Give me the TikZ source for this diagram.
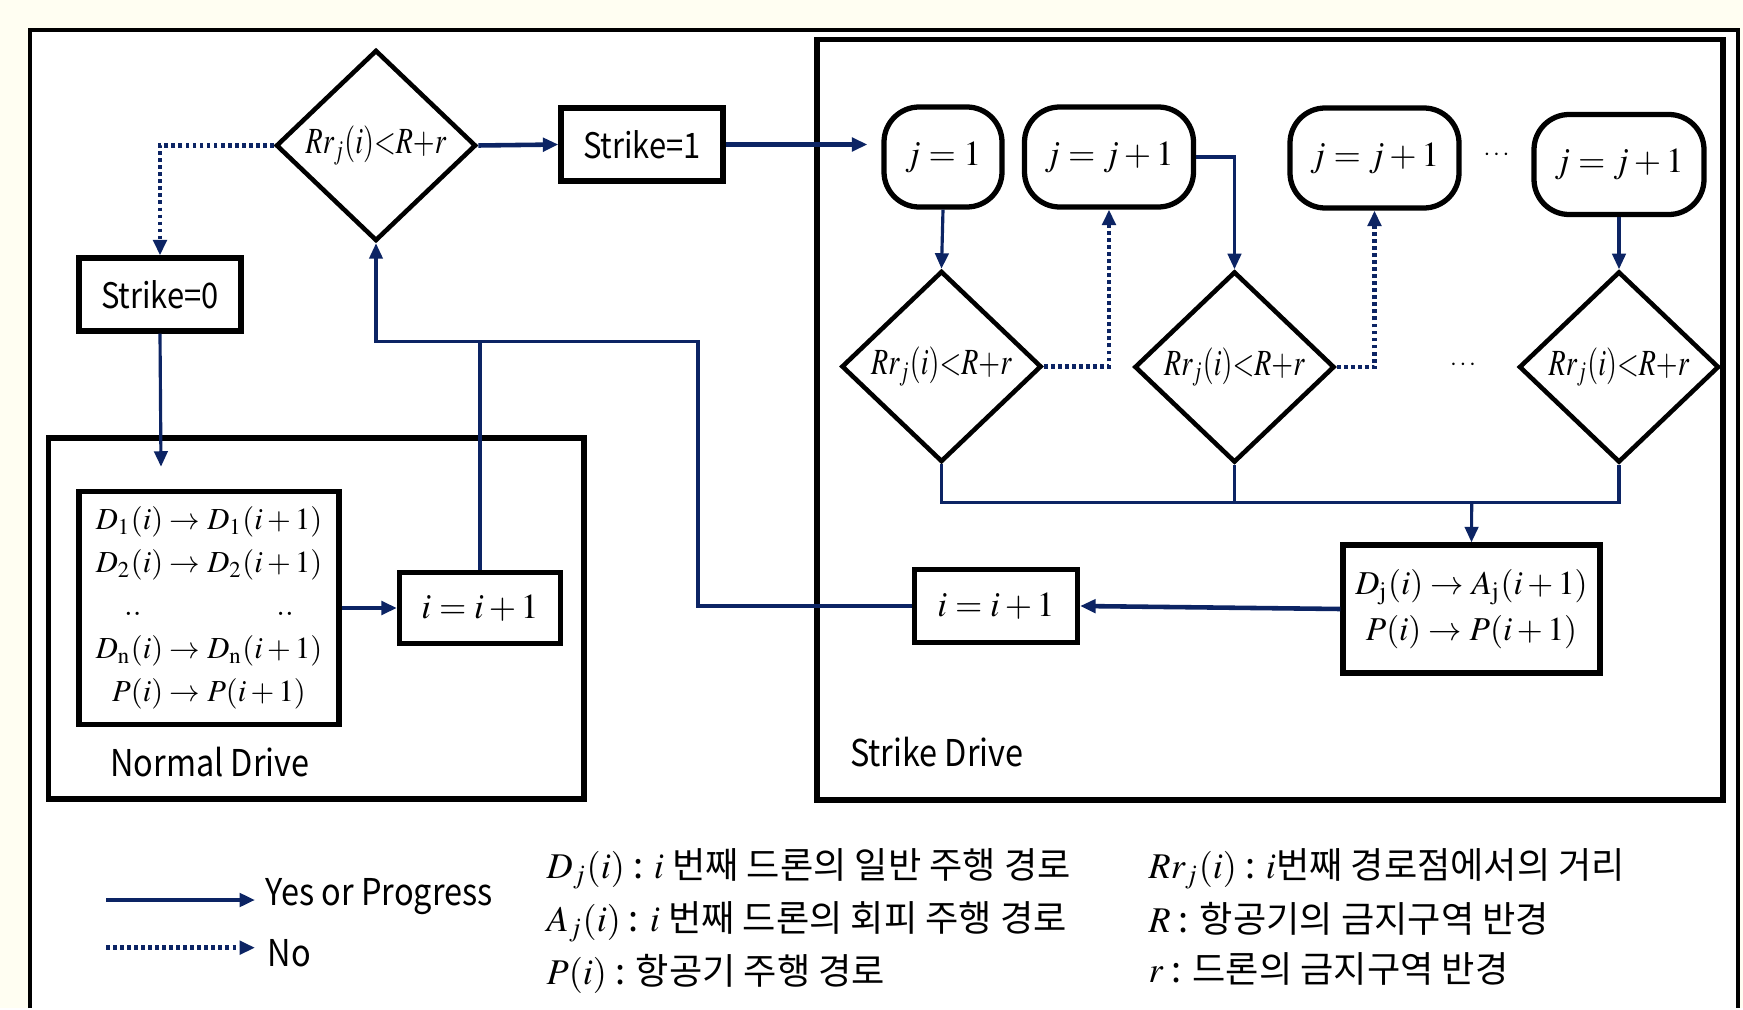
\documentclass[tikz,border=0pt]{standalone}
\usepackage{mathptmx}
\usepackage[no-math]{fontspec}
\newfontfamily\krfont{Noto Sans CJK KR}
\newfontfamily\lblfont{Noto Sans CJK KR}[FakeStretch=0.88]
\usetikzlibrary{arrows.meta,shapes.geometric}
\definecolor{navy}{RGB}{12,36,100}
\definecolor{cream}{RGB}{255,254,242}
\newcommand{\cond}{\scalebox{0.76}[1]{$Rr_j(i){<}R{+}r$}}
\tikzset{
  >={Triangle[length=4.4pt,width=3.8pt]},
  procbox/.style ={rectangle, draw, line width=1.5pt, inner sep=2pt,
                   font=\lblfont\fontsize{10}{12}\selectfont, align=center},
  jbox/.style    ={rectangle, rounded corners=10pt, draw, line width=1.5pt,
                   minimum height=1cm, font=\fontsize{10}{12}\selectfont},
  decide/.style  ={diamond, draw, line width=1.3pt, inner sep=0pt,
                   minimum width=2cm, minimum height=1.91cm,
                   font=\fontsize{10.5}{12}\selectfont},
  drivebox/.style={draw, line width=1.5pt},
  con/.style     ={draw=navy, line width=0.9pt},
  yes/.style     ={->, draw=navy, line width=1.3pt},
  no/.style      ={->, draw=navy, line width=1.4pt,
                   dash pattern=on 1.1pt off 0.9pt},
  lbl/.style     ={font=\lblfont\fontsize{10.5}{12}\selectfont, inner sep=0pt},
  defn/.style    ={font=\krfont\fontsize{10.3}{12}\selectfont, anchor=west,
                   inner sep=0pt},
}
\begin{document}
\begin{tikzpicture}
\fill[cream] (0,0) rectangle (17.43,-10.08);
\fill[white] (0.30,-0.30) rectangle (17.38,-10.08);
\draw[line width=0.9pt] (0.30,-10.08) |- (17.38,-0.30) -- (17.38,-10.08);
\useasboundingbox (0,0) rectangle (17.43,-10.08);

% first test
\node[decide] (dec0) at (3.76,-1.455) {\cond};
\node[procbox, minimum width=1.62cm, minimum height=0.73cm] (s1) at (6.42,-1.445) {Strike=1};
\node[procbox, minimum width=1.62cm, minimum height=0.73cm] (s0) at (1.60,-2.945) {Strike=0};

% normal drive
\draw[drivebox] (0.485,-4.38) rectangle (5.84,-7.99);
\node[procbox, font=\fontsize{8.7}{12.2}\selectfont, minimum width=2.6cm, minimum height=2.33cm] (list) at (2.09,-6.08)
  {$D_{\mathrm{1}}(i)\to D_{\mathrm{1}}(i+1)$\\
   $D_{\mathrm{2}}(i)\to D_{\mathrm{2}}(i+1)$\\
   ..\hspace{1.35cm}..\\
   $D_{\mathrm{n}}(i)\to D_{\mathrm{n}}(i+1)$\\
   $P(i)\to P(i+1)$};
\node[procbox, font=\fontsize{10}{12}\selectfont, minimum width=1.61cm, minimum height=0.71cm] (incL) at (4.80,-6.08) {$i=i+1$};
\node[lbl] (ndl) at (2.10,-7.62) {Normal Drive};
\coordinate (ndin) at (1.61,-4.667);

% strike drive
\draw[drivebox] (8.17,-0.393) rectangle (17.23,-8.00);
\node[jbox, minimum width=1.18cm] (j1) at (9.43,-1.57) {$j=1$};
\node[jbox, minimum width=1.69cm] (j2) at (11.09,-1.57) {$j=j+1$};
\node[jbox, minimum width=1.69cm] (j3) at (13.745,-1.58) {$j=j+1$};
\node[jbox, minimum width=1.70cm] (j4) at (16.19,-1.645) {$j=j+1$};
\node[font=\fontsize{7}{8}\selectfont] (dt1) at (14.965,-1.55) {$\cdots$};
\node[decide] (d1) at (9.415,-3.665) {\cond};
\node[decide] (d2) at (12.345,-3.67) {\cond};
\node[decide] (d3) at (16.19,-3.67) {\cond};
\node[font=\fontsize{7}{8}\selectfont] (dt2) at (14.63,-3.65) {$\cdots$};
\coordinate (jn) at (14.717,-5.027);
\node[procbox, font=\fontsize{9.5}{13}\selectfont, minimum width=2.57cm, minimum height=1.28cm] (upd) at (14.715,-6.09)
  {$D_{\mathrm{j}}(i)\to A_{\mathrm{j}}(i+1)$\\ $P(i)\to P(i+1)$};
\node[procbox, font=\fontsize{10}{12}\selectfont, minimum width=1.63cm, minimum height=0.73cm] (incR) at (9.96,-6.06) {$i=i+1$};
\node[lbl, anchor=west] (sdl) at (8.495,-7.52) {Strike Drive};
\coordinate (loop) at (6.98,-3.417);

% connectors
\draw[yes] (dec0.east) -- (s1.west);
\draw[no] (dec0.west) -| (s0.north);
\draw[con,->] (s0.south) -- (ndin);
\draw[yes, shorten >=0.14cm] (s1.east) -- (s1.east -| j1.west);
\draw[yes] (list.east) -- (incL.west);
\draw[con,->] (incR.west) -| (loop) -| (dec0.south);
\draw[con] (incL.north) -- (incL.north |- loop);
\draw[con,->] (j1.south) -- (d1.north);
\draw[no] (d1.east) -| (j2.south);
\draw[con,->] (j2.east) -| (d2.north);
\draw[no] (d2.east) -| (j3.south);
\draw[con,->] (j4.south) -- (d3.north);
\draw[con] (d1.south) |- (jn) -| (d3.south);
\draw[con] (d2.south) -- (d2.south |- jn);
\draw[con,->] (jn) -- (upd.north);
\draw[yes] (upd.west) -- (incR.east);

% legend
\node[lbl, anchor=west] (lyes) at (2.65,-8.97) {Yes or Progress};
\node[lbl, anchor=west] (lno) at (2.67,-9.53) {No};
\coordinate (lg1) at (1.06,-9.00);
\coordinate (lg2) at (1.06,-9.477);
\draw[yes, shorten >=0.1cm] (lg1) -- (lg1 -| lyes.west);
\draw[no, shorten >=0.12cm] (lg2) -- (lg2 -| lno.west);
\node[defn] (dfD) at (5.46,-8.69) {$D_j(i)$ : $i$ 번째 드론의 일반 주행 경로};
\node[defn] (dfA) at (5.46,-9.22) {$A_j(i)$ : $i$ 번째 드론의 회피 주행 경로};
\node[defn] (dfP) at (5.46,-9.74) {$P(i)$ : 항공기 주행 경로};
\node[defn] (dfRr) at (11.48,-8.69) {$Rr_j(i)$ : $i$번째 경로점에서의 거리};
\node[defn] (dfR) at (11.48,-9.19) {$R$ : 항공기의 금지구역 반경};
\node[defn] (dfr) at (11.48,-9.69) {$r$ : 드론의 금지구역 반경};
\end{tikzpicture}
\end{document}
